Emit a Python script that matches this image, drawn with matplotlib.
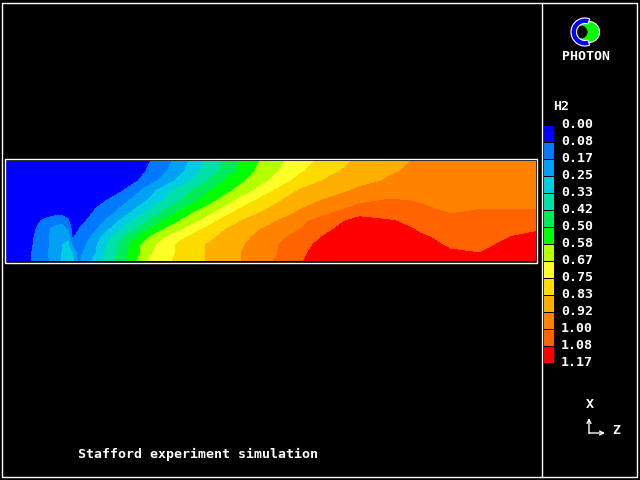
import matplotlib
matplotlib.use("Agg")
import matplotlib.pyplot as plt
import numpy as np
from matplotlib.patches import Circle, Rectangle, Wedge

# legend levels and their colours
h2_levels = [0.00, 0.08, 0.17, 0.25, 0.33, 0.42, 0.50, 0.58, 0.67, 0.75, 0.83, 0.92, 1.00, 1.08, 1.17]
h2_colors = ["#0000ff", "#0078ff", "#00a0f5", "#00cde1", "#00e1aa", "#00eb5a", "#00ff00", "#b4ff00",
             "#ffff28", "#ffdc00", "#ffaf00", "#ff8200", "#ff6400", "#ff0000"]

# grid nodes of the domain, in picture pixels
z_nodes = [5, 30, 38, 46, 54, 62, 68, 72, 78, 86, 96, 108, 122, 138, 150, 165, 180, 195, 210, 225, 245,
           270, 300, 330, 360, 390, 420, 450, 480, 510, 536]
x_nodes = [161, 171, 181, 191, 201, 214, 221, 229, 237, 245, 253, 261]

# H2, one list per row
row_161 = [.00, .00, .00, .00, .00, .00, .00, .00, .00, .00, .01, .02, .04, .06, .078, .14, .21, .28, .36, .436, .524,
           .62, .717, .788, .847, .897, .93, .94, .95, .96, .97]
row_171 = [.00, .00, .00, .00, .00, .00, .00, .00, .00, .00, .01, .02, .04, .06, .09, .157, .227, .30, .377, .45, .54,
           .64, .738, .81, .865, .912, .935, .945, .955, .96, .97]
row_181 = [.00, .00, .00, .00, .00, .00, .00, .00, .00, .00, .01, .03, .05, .08, .137, .205, .277, .356, .435, .507, .577,
           .677, .78, .848, .893, .93, .945, .955, .96, .965, .97]
row_191 = [.00, .00, .00, .00, .00, .00, .01, .01, .015, .02, .035, .05, .075, .16, .22, .296, .37, .44, .50, .55, .635,
           .74, .84, .885, .94, .96, .97, .97, .975, .975, .98]
row_201 = [.00, .00, .00, .01, .01, .01, .02, .02, .03, .045, .06, .085, .14, .21, .265, .34, .42, .49, .55, .625, .72,
           .80, .88, .94, .985, 1.01, .995, .98, .98, .98, .98]
row_214 = [.00, .02, .03, .05, .06, .06, .06, .05, .05, .06, .095, .145, .215, .30, .37, .455, .525, .595, .66, .73, .80,
           .86, .94, 1.00, 1.06, 1.05, 1.02, 1.00, 1.01, 1.01, 1.01]
row_221 = [.00, .04, .07, .10, .13, .14, .09, .05, .06, .08, .13, .19, .27, .365, .435, .51, .58, .648, .718, .78, .84,
           .90, .98, 1.05, 1.11, 1.085, 1.06, 1.04, 1.04, 1.05, 1.05]
row_229 = [.00, .05, .09, .14, .19, .21, .15, .06, .075, .115, .16, .237, .33, .43, .495, .58, .655, .723, .78, .825, .885,
           .94, 1.00, 1.07, 1.14, 1.12, 1.07, 1.05, 1.05, 1.06, 1.07]
row_237 = [.00, .06, .10, .15, .20, .24, .24, .07, .095, .135, .21, .30, .405, .505, .58, .665, .725, .775, .81, .855, .905,
           .96, 1.03, 1.10, 1.16, 1.14, 1.09, 1.06, 1.06, 1.08, 1.10]
row_245 = [.00, .06, .11, .15, .20, .25, .26, .17, .11, .17, .24, .34, .44, .56, .64, .71, .77, .81, .84, .88, .92,
           .98, 1.05, 1.12, 1.17, 1.15, 1.11, 1.07, 1.07, 1.09, 1.12]
row_253 = [.00, .07, .12, .15, .21, .25, .29, .26, .13, .19, .25, .35, .46, .56, .655, .72, .765, .81, .84, .875, .93,
           .98, 1.06, 1.14, 1.19, 1.17, 1.14, 1.09, 1.08, 1.11, 1.14]
row_261 = [.00, .07, .12, .15, .20, .26, .29, .28, .16, .21, .28, .37, .47, .585, .68, .73, .77, .81, .84, .87, .93,
           .99, 1.07, 1.15, 1.19, 1.18, 1.15, 1.12, 1.11, 1.13, 1.16]

h2_field = np.array([row_161, row_171, row_181, row_191, row_201, row_214, row_221, row_229,
                     row_237, row_245, row_253, row_261])

FONT = dict(family="DejaVu Sans Mono", weight="bold", size=9.5, color="white", va="center")

fig = plt.figure(figsize=(6.4, 4.8), dpi=100, facecolor="black")
ax = fig.add_axes([0, 0, 1, 1])
ax.set_xlim(0, 640)
ax.set_ylim(480, 0)
ax.axis("off")

# contours
ax.contourf(z_nodes, x_nodes, h2_field, levels=h2_levels,
            colors=[h2_colors[0]] + h2_colors + [h2_colors[-1]], extend="both", antialiased=False)

# frames
ax.add_patch(Rectangle((1.5, 2.5), 635.5, 474, fill=False, ec="white", lw=1))
ax.plot([541.5, 541.5], [2.5, 476.5], color="white", lw=1)
ax.add_patch(Rectangle((4.5, 158.5), 532, 104, fill=False, ec="white", lw=1))

# colour key
for i, col in enumerate(h2_colors):
    ax.bar(549, 16, width=10, bottom=126 + i * 17, color=col, linewidth=0)
for i, lev in enumerate(h2_levels):
    ax.text(561, 124 + i * 17.07, f"{lev:.2f}", **FONT)
ax.text(553, 106, "H2", **FONT)

# logo
ax.add_patch(Circle((589, 32), 10.5, fc="#00ff00", ec="white", lw=0.8))
ax.add_patch(Circle((581, 32), 6.5, fc="black", ec="none"))
ax.add_patch(Wedge((585, 32), 14, 70, 290, width=5.5, fc="#0000ff", ec="white", lw=0.8))
ax.text(562, 56, "PHOTON", **FONT)

# axis triad
arrow = dict(arrowstyle="->", color="white", lw=1, mutation_scale=7, shrinkA=0, shrinkB=0)
ax.annotate("", xy=(589, 418), xytext=(589, 433.5), arrowprops=arrow)
ax.annotate("", xy=(605, 433), xytext=(589, 433), arrowprops=arrow)
ax.text(586, 404, "X", **FONT)
ax.text(612, 430, "Z", **FONT)

ax.text(78, 454, "Stafford experiment simulation", **FONT)

fig.savefig("out.png", dpi=100, facecolor="black")
